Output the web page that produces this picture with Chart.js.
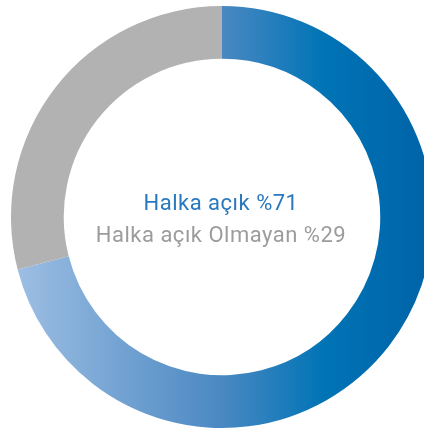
<!DOCTYPE html>
<html>
<head>
<meta charset="utf-8">
<script src="https://cdn.jsdelivr.net/npm/chart.js@4.4.1/dist/chart.umd.min.js"></script>
<style>
  html, body { margin: 0; padding: 0; background: #fff; overflow: hidden; }
  #wrap { position: relative; width: 444px; height: 431px; }
</style>
</head>
<body>
<div id="wrap"><canvas id="chart"></canvas></div>
<script>
// Chart data
var labels = ["Halka açık", "Halka açık Olmayan"];
var values = [71, 29];
var centerLines = ["Halka açık %71", "Halka açık Olmayan %29"];

var ctx = document.getElementById("chart");

// center text plugin
var centerText = {
  id: "centerText",
  afterDraw: function (chart) {
    var c = chart.ctx;
    var meta = chart.getDatasetMeta(0).data[0];
    var x = meta.x, y = meta.y;
    c.save();
    c.textAlign = "center";
    c.textBaseline = "alphabetic";
    c.font = "22px Roboto";
    c.letterSpacing = "0.5px";
    c.fillStyle = "#2a78bd";
    c.fillText(centerLines[0], x - 1, y - 7);
    c.fillStyle = "#9c9c9c";
    c.fillText(centerLines[1], x - 1, y + 25);
    c.restore();
  },
};

var myChart = new Chart(ctx, {
  type: "doughnut",
  data: {
    labels: labels,
    datasets: [
      {
        data: values,
        backgroundColor: function (context) {
          if (context.dataIndex === 1) return "#b2b2b2";
          var chart = context.chart;
          var area = chart.chartArea;
          if (!area) return "#4686c1";
          var g = chart.ctx.createLinearGradient(10, 0, 434, 0);
          g.addColorStop(0, "#a0c0e4");
          g.addColorStop(0.5, "#4a88c2");
          g.addColorStop(0.74, "#0074b6");
          g.addColorStop(1, "#0062a7");
          return g;
        },
        borderWidth: 0,
      },
    ],
  },
  options: {
    responsive: true,
    maintainAspectRatio: false,
    animation: false,
    cutout: "75%",
    layout: { padding: { top: 6, bottom: 3, left: 0, right: 0 } },
    plugins: {
      legend: { display: false },
      tooltip: { enabled: false },
    },
    events: [],
  },
  plugins: [centerText],
});
</script>
</body>
</html>
